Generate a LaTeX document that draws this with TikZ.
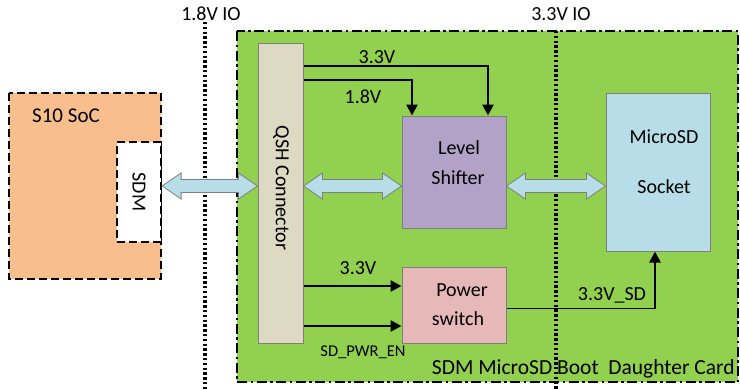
\documentclass[tikz,border=0pt]{standalone}
\usepackage{fontspec}
\setmainfont{Carlito}
\usetikzlibrary{arrows.meta,calc}
\definecolor{boardgreen}{HTML}{92D050}
\definecolor{socorange}{HTML}{F8BE8E}
\definecolor{lspurple}{HTML}{B3A2C7}
\definecolor{pspink}{HTML}{E6B9B8}
\definecolor{sockblue}{HTML}{B7DEE8}
\definecolor{qshbeige}{HTML}{DDD9C3}
\definecolor{fatblue}{HTML}{B7DEE8}
\definecolor{boxline}{HTML}{7F7F7F}
\tikzset{
  txt/.style={font=\fontsize{20}{22}\selectfont, inner sep=0pt},
  small/.style={font=\fontsize{16.5}{18}\selectfont, inner sep=0pt},
  blk/.style={draw=boxline, line width=1pt, inner sep=0pt},
  socline/.style={draw=black, line width=2.2pt, dash pattern=on 8pt off 4pt},
  pwr/.style={line width=2.6pt, -{Triangle[length=11pt,width=11pt]}},
  fatarrow/.style={fill=fatblue, draw=boxline, line width=0.8pt, line join=miter},
  sepline/.style={line width=3.2pt, dash pattern=on 2.4pt off 2.4pt},
  boardline/.style={line width=2.4pt, dash pattern=on 10pt off 3.5pt on 2.5pt off 3.5pt},
}
\newcommand\fatarr[2]{%
  \draw[fatarrow] let \p1=#1, \p2=#2 in
   (\x1,\y1) -- (\x1+19pt,\y1+13pt) -- (\x1+19pt,\y1+6.5pt) -- (\x2-19pt,\y1+6.5pt) -- (\x2-19pt,\y1+13pt)
   -- (\x2,\y1) -- (\x2-19pt,\y1-13pt) -- (\x2-19pt,\y1-6.5pt) -- (\x1+19pt,\y1-6.5pt) -- (\x1+19pt,\y1-13pt) -- cycle;}
\begin{document}
\begin{tikzpicture}[x=1pt,y=-1pt]
\useasboundingbox (0,0) rectangle (740,389);
% board
\draw[fill=boardgreen, boardline] (237,31) rectangle (738,382);
% separators
\draw[sepline] (205,22) -- (205,389);
\draw[sepline] (556,31) -- (556,389);
\node[txt] (io18) at (211,14) {1.8V IO};
\node[txt] (io33) at (561,14) {3.3V IO};
% SoC
\draw[fill=socorange, socline] (9,93) rectangle (161,279);
\node[socline, fill=white, inner sep=0pt, minimum width=44pt, minimum height=100pt] (sdm) at (139,192) {};
\node[txt, rotate=-90] (sdmt) at (sdm.center) {SDM};
\node[txt, font=\fontsize{21}{23}\selectfont] (soct) at (66,116) {S10 SoC};
% blocks
\node[blk, fill=qshbeige, minimum width=45pt, minimum height=300pt] (qsh) at (280.5,193) {};
\node[txt, rotate=-90] (qsht) at (281,188) {QSH Connector};
\node[blk, fill=lspurple, minimum width=104pt, minimum height=112pt] (lsh) at (454,172) {};
\node[txt] (lsht1) at (459,148) {Level};
\node[txt] (lsht2) at (458,178) {Shifter};
\node[blk, fill=pspink, minimum width=104pt, minimum height=76pt] (psw) at (454,305) {};
\node[txt] (pswt1) at (462,290) {Power};
\node[txt] (pswt2) at (458,319) {switch};
\node[blk, fill=sockblue, minimum width=104pt, minimum height=158pt] (sock) at (658,172) {};
\node[txt] (sockt1) at (664,137) {MicroSD};
\node[txt] (sockt2) at (664,187) {Socket};
% fat bus arrows
\coordinate (busy) at (0,186);
\fatarr{(sdm.east |- busy)}{(qsh.west |- busy)}
\fatarr{(qsh.east |- busy)}{(lsh.west |- busy)}
\fatarr{(lsh.east |- busy)}{(sock.west |- busy)}
% supply lines
\coordinate (c33) at (488,66);
\coordinate (c18) at (412,80);
\draw[pwr] (qsh.east |- c33) -- (c33) -- (c33 |- lsh.north);
\draw[pwr] (qsh.east |- c18) -- (c18) -- (c18 |- lsh.north);
\node[txt] (l33a) at (377,57) {3.3V};
\node[txt] (l18) at (363,97) {1.8V};
\coordinate (p33) at (0,286);
\coordinate (pen) at (0,326);
\draw[pwr] (qsh.east |- p33) -- (psw.west |- p33);
\draw[pwr] (qsh.east |- pen) -- (psw.west |- pen);
\node[txt] (l33b) at (358,268) {3.3V};
\node[small] (len) at (363,352) {SD\_PWR\_EN};
% 3.3V_SD
\coordinate (sdc) at (655,308);
\draw[line width=1pt] (psw.east |- sdc) -- (sdc);
\draw[pwr] ([yshift=-0.5pt]sdc) -- (sdc |- sock.south);
\node[txt] (l33sd) at (612,295) {3.3V\_SD};
% board label
\node[txt, font=\fontsize{21.5}{23}\selectfont, anchor=east] (board) at (735,369) {SDM MicroSD Boot\ \ Daughter Card};
\end{tikzpicture}
\end{document}
